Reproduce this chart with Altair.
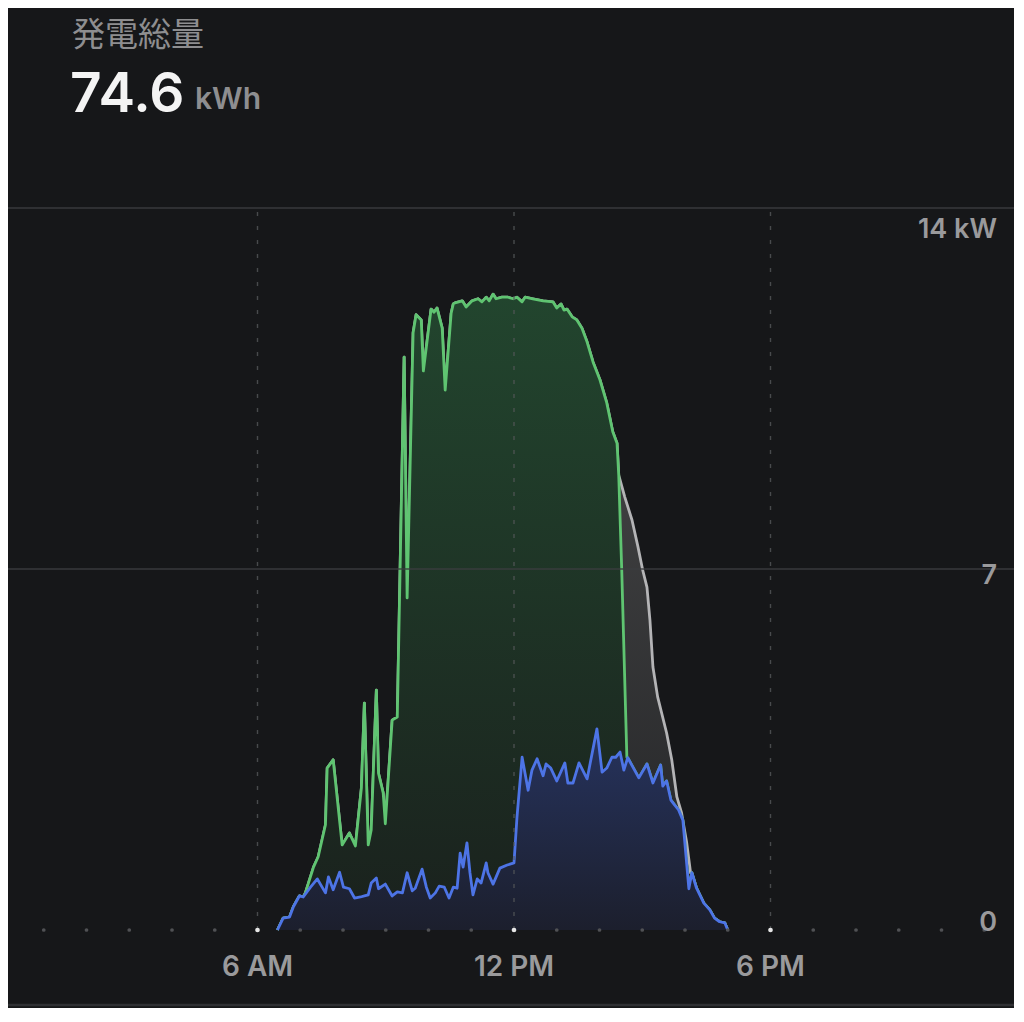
import altair as alt
import pandas as pd

# ---------------- data ----------------
title_text = "発電総量"
total_value = "74.6"
total_unit = "kWh"

x_tick_hours = [6, 12, 18]
x_tick_labels = ["6 AM", "12 PM", "6 PM"]
y_tick_values = [14, 7, 0]
y_tick_labels = ["14 kW", "7", "0"]
dot_hours = list(range(0, 24))

# blue: home / consumption
home_h = [6.467, 6.60, 6.75, 6.84, 6.98, 7.07, 7.24, 7.40, 7.59, 7.66, 7.77, 7.92, 8.01, 8.15, 8.27,
          8.41, 8.50, 8.59, 8.66, 8.78, 8.83, 8.99, 9.15, 9.27, 9.39, 9.50, 9.62, 9.69, 9.85, 9.95,
          10.04, 10.16, 10.25, 10.37, 10.48, 10.58, 10.67, 10.74, 10.81, 10.90, 10.97, 11.04, 11.14,
          11.23, 11.35, 11.39, 11.51, 11.67, 11.84, 12.00, 12.07, 12.19, 12.33, 12.42, 12.54, 12.68,
          12.75, 12.86, 13.00, 13.19, 13.26, 13.38, 13.52, 13.71, 13.94, 14.06, 14.17, 14.29, 14.38,
          14.48, 14.57, 14.66, 14.92, 15.11, 15.25, 15.43, 15.48, 15.57, 15.67, 15.76, 15.85, 15.95,
          16.09, 16.16, 16.27, 16.44, 16.58, 16.69, 16.81, 16.93, 17.00]
home_kw = [0, 0.23, 0.25, 0.45, 0.66, 0.64, 0.83, 0.99, 0.72, 1.03, 0.78, 1.12, 0.83, 0.80, 0.62,
           0.64, 0.66, 0.68, 0.91, 1.01, 0.80, 0.89, 0.66, 0.74, 0.72, 1.11, 0.76, 0.81, 1.18, 0.83,
           0.62, 0.72, 0.85, 0.83, 0.62, 0.83, 0.81, 1.49, 1.22, 1.69, 1.11, 0.68, 0.99,
           0.91, 1.30, 1.11, 0.89, 1.20, 1.26, 1.30, 2.19, 3.35, 2.71, 3.10, 3.32, 2.99,
           3.22, 3.14, 2.89, 3.24, 2.85, 2.85, 3.24, 2.93, 3.90, 3.06, 3.14, 3.35, 3.35,
           3.45, 3.10, 3.34, 2.95, 3.22, 2.85, 3.20, 2.79, 2.89, 2.52, 2.42, 2.33, 2.13,
           0.80, 1.11, 0.81, 0.52, 0.39, 0.23, 0.16, 0.14, 0]

# green: the part of the green series that rises above the blue one
green_h = [7.12, 7.31, 7.42, 7.59, 7.63, 7.77, 7.98, 8.15, 8.29, 8.43, 8.50, 8.59, 8.66, 8.78, 8.83,
           8.94, 8.99, 9.15, 9.27, 9.43, 9.50, 9.64, 9.71, 9.83, 9.88, 10.06, 10.13, 10.20, 10.32, 10.39,
           10.53, 10.58, 10.62, 10.79, 10.88, 11.02, 11.16, 11.25, 11.35, 11.42, 11.51, 11.58, 11.72,
           11.86, 11.98, 12.07, 12.19, 12.26, 12.44, 12.68, 12.91, 13.00, 13.10, 13.17, 13.24, 13.36,
           13.47, 13.59, 13.71, 13.85, 14.01, 14.17, 14.31, 14.41, 14.45, 14.52, 14.64]
green_kw = [0.72, 1.22, 1.42, 2.04, 3.14, 3.30, 1.65, 1.88, 1.63, 2.75, 4.40, 1.65, 1.94, 4.65, 3.04,
            2.66, 2.06, 4.07, 4.13, 11.11, 6.44, 11.58, 11.93, 11.83, 10.84, 12.04, 11.98, 12.06, 11.67, 10.47,
            11.96, 12.14, 12.16, 12.20, 12.08, 12.20, 12.24, 12.18, 12.27, 12.20, 12.33, 12.24, 12.27,
            12.27, 12.24, 12.27, 12.18, 12.27, 12.24, 12.20, 12.18, 12.06, 12.14, 12.02, 12.04, 11.89,
            11.83, 11.67, 11.40, 11.01, 10.67, 10.22, 9.66, 9.44, 8.82, 6.98, 3.35]

# gray: total solar from where it separates from the green series
gray_h = [14.45, 14.59, 14.76, 14.90, 15.01, 15.11, 15.18, 15.25, 15.36, 15.57, 15.69, 15.81, 15.92, 16.04, 16.13]
gray_kw = [8.82, 8.40, 7.95, 7.43, 6.98, 6.65, 6.01, 5.10, 4.52, 3.82, 3.30, 2.58, 2.27, 1.69, 1.11]

# ---------------- build tables ----------------
home = pd.DataFrame({"h": home_h, "kw": home_kw})
g_own = pd.DataFrame({"h": green_h, "kw": green_kw})
green = pd.concat([home[home.h < green_h[0]], g_own, home[home.h > green_h[-1]]], ignore_index=True)
gr_own = pd.DataFrame({"h": gray_h, "kw": gray_kw})
gray = pd.concat([green[green.h < gray_h[0]], gr_own, home[home.h > gray_h[-1]]], ignore_index=True)

# ---------------- layout ----------------
W, H = 1006, 1000
PX_PER_H = 42.75
PX_PER_KW = 722 / 14
ZERO_Y = 922
x_dom = [7 / PX_PER_H, (W + 7) / PX_PER_H]
y_dom = [-(H - ZERO_Y) / PX_PER_KW, ZERO_Y / PX_PER_KW]

BG = "#161719"
LABEL = "#9a9a9c"
FONT = "Inter"

xs = alt.Scale(domain=x_dom, nice=False, zero=False)
ys = alt.Scale(domain=y_dom, nice=False, zero=False)


def X(field="h"):
    return alt.X(f"{field}:Q", scale=xs, axis=None)


def Y(field="kw"):
    return alt.Y(f"{field}:Q", scale=ys, axis=None)


def grad(top, bottom):
    return alt.Gradient(
        gradient="linear",
        stops=[alt.GradientStop(color=top, offset=0), alt.GradientStop(color=bottom, offset=1)],
        x1=1, x2=1, y1=0, y2=1,
    )


def series(df, line_color, top, bottom):
    base = alt.Chart(df)
    area = base.mark_area(color=grad(top, bottom), interpolate="linear").encode(x=X(), y=Y())
    line = base.mark_line(color=line_color, strokeWidth=2.8, strokeJoin="round").encode(x=X(), y=Y())
    return area + line


gray_layer = series(gray, "#b4b4b6", "#4a4a4b", "#232426")
green_layer = series(green, "#5fc471", "#22452e", "#1a211d")
blue_layer = series(home, "#4d74e6", "#26335e", "#1c1f2d")

# grid lines
hgrid = alt.Chart(pd.DataFrame({"kw": [14, 7]})).mark_rule(
    color="#3c3d40", strokeWidth=1.6, opacity=0.9
).encode(y=Y())

vgrid_df = pd.DataFrame({"h": x_tick_hours, "y0": [0] * 3, "y1": [14] * 3})
vgrid = alt.Chart(vgrid_df).mark_rule(
    color="#55575a", strokeWidth=1.4, strokeDash=[4, 10], opacity=0.8
).encode(x=X(), y=Y("y0"), y2="y1:Q")

dots_df = pd.DataFrame({"h": dot_hours, "kw": [0] * len(dot_hours)})
dots_df["major"] = dots_df.h.isin(x_tick_hours)
minor_dots = alt.Chart(dots_df[~dots_df.major]).mark_circle(
    color="#505154", size=14, opacity=1
).encode(x=X(), y=Y())
major_dots = alt.Chart(dots_df[dots_df.major]).mark_circle(
    color="#e6e6e6", size=22, opacity=1
).encode(x=X(), y=Y())

bottom_line = alt.Chart(pd.DataFrame({"a": [0]})).mark_rule(
    color="#2f3033", strokeWidth=2.5
).encode(y=alt.value(997), x=alt.value(-10), x2=alt.value(W + 10))

# axis labels
xlab_df = pd.DataFrame({"h": x_tick_hours, "t": x_tick_labels})
xlabels = alt.Chart(xlab_df).mark_text(
    font=FONT, fontSize=28, fontWeight=600, color=LABEL, align="center", baseline="alphabetic"
).encode(x=X(), y=alt.value(968), text="t:N")

ylab_df = pd.DataFrame({"kw": y_tick_values, "t": y_tick_labels})
y_offsets = {14: 30, 7: 15, 0: 1}
ylabels = None
for v, t in zip(y_tick_values, y_tick_labels):
    lay = alt.Chart(ylab_df[ylab_df.kw == v]).mark_text(
        font=FONT, fontSize=27, fontWeight=600, color=LABEL, align="right",
        baseline="alphabetic", dy=y_offsets[v]
    ).encode(x=alt.value(989), y=Y(), text="t:N")
    ylabels = lay if ylabels is None else ylabels + lay

# header texts
hdr = pd.DataFrame({"a": [0]})
title = alt.Chart(hdr).mark_text(
    text=title_text, font="Noto Sans CJK JP", fontSize=33, fontWeight=400,
    color="#8e8e90", align="left", baseline="middle"
).encode(x=alt.value(64), y=alt.value(28))
value = alt.Chart(hdr).mark_text(
    text=total_value, font=FONT, fontSize=55, fontWeight=600,
    color="#f4f4f4", align="left", baseline="alphabetic"
).encode(x=alt.value(62), y=alt.value(104))
unit = alt.Chart(hdr).mark_text(
    text=total_unit, font=FONT, fontSize=30, fontWeight=600,
    color="#8e8e90", align="left", baseline="alphabetic"
).encode(x=alt.value(187), y=alt.value(101))

chart = alt.layer(
    gray_layer, green_layer, blue_layer,
    hgrid, vgrid, minor_dots, major_dots, bottom_line,
    xlabels, ylabels, title, value, unit,
).properties(
    width=W, height=H, background=BG, padding=0, autosize=alt.AutoSizeParams(type="none")
).configure_view(stroke=None)

chart.save("out.html", embed_options={"renderer": "svg", "actions": False})
